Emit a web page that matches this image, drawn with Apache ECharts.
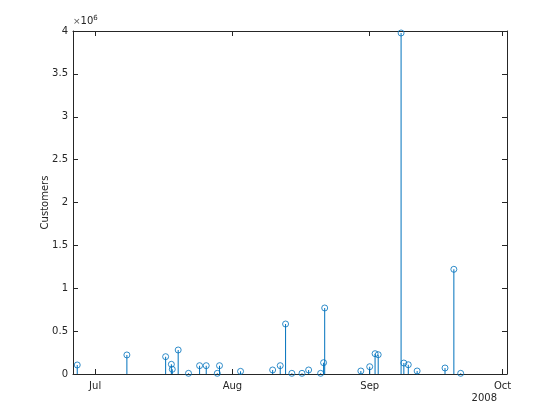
<!DOCTYPE html>
<html>
<head>
<meta charset="utf-8">
<script src="https://cdn.jsdelivr.net/npm/echarts@6/dist/echarts.min.js"></script>
<style>html,body{margin:0;padding:0;background:#fff}#c{width:560px;height:420px}</style>
</head>
<body>
<div id="c"></div>
<script>
// Outage dates (local time) and customers affected
const outageDates = [
  '2008-06-26 23:00','2008-07-08 04:00','2008-07-16 22:00','2008-07-18 05:00','2008-07-18 10:00',
  '2008-07-19 18:00','2008-07-22 02:00','2008-07-24 14:00','2008-07-26 02:00','2008-07-28 14:00',
  '2008-07-29 02:00','2008-08-02 20:00','2008-08-10 02:00','2008-08-11 19:00','2008-08-13 00:00',
  '2008-08-14 10:00','2008-08-16 17:00','2008-08-18 05:00','2008-08-20 22:00','2008-08-21 14:00',
  '2008-08-21 20:00','2008-08-30 00:00','2008-09-01 00:00','2008-09-02 05:00','2008-09-02 22:00',
  '2008-09-08 02:00','2008-09-08 17:00','2008-09-09 17:00','2008-09-11 17:00','2008-09-18 00:00',
  '2008-09-20 00:00','2008-09-21 13:00'
];
const customers = [
  105000, 222000, 202000, 113000, 55000,
  280000, 8000, 97000, 97000, 8000,
  97000, 31000, 47000, 97000, 583000,
  8000, 8000, 47000, 8000, 132000,
  770000, 35000, 85000, 237000, 225000,
  3977000, 128000, 108000, 35000, 70000,
  1221000, 8000
];
const tickDates = ['2008-07-01','2008-08-01','2008-09-01','2008-10-01'];
const tickLabels = ['Jul','Aug','Sep','Oct'];
const yTicks = [0, 0.5, 1, 1.5, 2, 2.5, 3, 3.5, 4];
const xRange = ['2008-06-26','2008-10-02'];
const yearLabel = '2008';
const yName = 'Customers';

function toTs(s) {
  const [d, t] = s.split(' ');
  const [y, m, dd] = d.split('-').map(Number);
  const h = t ? Number(t.split(':')[0]) : 0;
  return new Date(y, m - 1, dd, h).getTime();
}
const tickVals = tickDates.map(toTs);
const pts = outageDates.map((d, i) => [toTs(d), customers[i]]);

const C = '#262626';
const blue = '#0072BD';
const font = 'DejaVu Sans';

const chart = echarts.init(document.getElementById('c'), null, {renderer: 'canvas'});
const baseX = {
  type: 'value', min: toTs(xRange[0]), max: toTs(xRange[1]), scale: true,
  splitLine: {show: false},
  axisLine: {show: true, onZero: false, lineStyle: {color: C, width: 1}},
  axisTick: {show: true, inside: true, length: 5, customValues: tickVals, lineStyle: {color: C}},
};
const baseY = {
  type: 'value', min: 0, max: yTicks[yTicks.length - 1] * 1e6, interval: 0.5e6,
  splitLine: {show: false},
  axisLine: {show: true, lineStyle: {color: C, width: 1}},
  axisTick: {show: true, inside: true, length: 5, lineStyle: {color: C}},
};
chart.setOption({
  animation: false,
  backgroundColor: '#fff',
  grid: {left: 73, right: 53, top: 31, bottom: 46, containLabel: false},
  xAxis: [
    Object.assign({}, baseX, {
      position: 'bottom',
      axisLabel: {
        show: true, customValues: tickVals, color: C, fontFamily: font, fontSize: 10, margin: 7,
        formatter: function (v) { const i = tickVals.indexOf(v); return i >= 0 ? tickLabels[i] : ''; }
      }
    }),
    Object.assign({}, baseX, {position: 'top', axisLabel: {show: false}})
  ],
  yAxis: [
    Object.assign({}, baseY, {
      position: 'left',
      name: yName, nameLocation: 'middle', nameGap: 23, nameRotate: 90, nameMoveOverlap: false,
      nameTextStyle: {color: C, fontFamily: font, fontSize: 10},
      axisLabel: {color: C, fontFamily: font, fontSize: 10, margin: 5,
        formatter: function (v) { return String(v / 1e6); }}
    }),
    Object.assign({}, baseY, {position: 'right', axisLabel: {show: false}})
  ],
  graphic: [
    {type: 'text', left: 73, top: 15, style: {
      rich: {a: {fontSize: 9, fill: '#555', fontFamily: font}, b: {fontSize: 10, fill: C, fontFamily: font}, s: {fontSize: 7, fill: C, fontFamily: font, verticalAlign: 'top', padding: [0,0,6,0]}},
      text: '{a|×}{b|10}{s|6}'
    }},
    {type: 'text', right: 63, top: 393, style: {text: yearLabel, fontSize: 10, fill: C, fontFamily: font}}
  ],
  series: [
    {type: 'bar', data: pts, barWidth: 1, xAxisIndex: 0, yAxisIndex: 0,
      itemStyle: {color: blue}, silent: true},
    {type: 'scatter', data: pts, symbol: 'circle', symbolSize: 6, xAxisIndex: 0, yAxisIndex: 0,
      itemStyle: {color: 'rgba(0,0,0,0)', borderColor: blue, borderWidth: 1}, silent: true}
  ]
});
</script>
</body>
</html>
